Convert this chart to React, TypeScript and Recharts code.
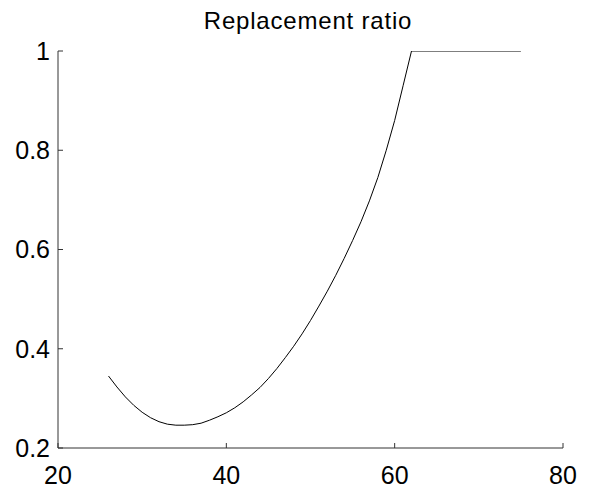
import { LineChart, Line, XAxis, YAxis } from "recharts";

const ages = [
  26, 27, 28, 29, 30, 31, 32, 33, 34, 35, 36, 37, 38, 39, 40, 41, 42, 43, 44,
  45, 46, 47, 48, 49, 50, 51, 52, 53, 54, 55, 56, 57, 58, 59, 60, 61, 62, 75,
];
const ratios = [
  0.345, 0.323, 0.303, 0.286, 0.272, 0.261, 0.253, 0.248, 0.246, 0.246,
  0.247, 0.25, 0.256, 0.263, 0.271, 0.281, 0.293, 0.307, 0.322, 0.34, 0.36,
  0.382, 0.405, 0.43, 0.457, 0.486, 0.516, 0.548, 0.582, 0.618, 0.656, 0.698,
  0.745, 0.8, 0.86, 0.93, 1.0, 1.0,
];
const xTicks = [20, 40, 60, 80];
const yTicks = [0.2, 0.4, 0.6, 0.8, 1];

const data = ages.map((age, i) => ({ age, ratio: ratios[i] }));

const font = "'Liberation Sans', Arial, sans-serif";
const axisColor = "#333333";

export default function App() {
  return (
    <div
      style={{
        position: "absolute",
        left: 0,
        top: 0,
        width: 594,
        height: 491,
        background: "#fff",
        fontFamily: font,
      }}
    >
      <div
        style={{
          position: "absolute",
          left: 58,
          width: 500,
          top: 7,
          textAlign: "center",
          fontSize: 24,
          letterSpacing: 0.8,
          color: "#000",
        }}
      >
        Replacement ratio
      </div>
      <LineChart
        width={594}
        height={491}
        data={data}
        margin={{ top: 51, right: 31, left: 8, bottom: 0 }}
      >
        <XAxis
          dataKey="age"
          type="number"
          domain={[20, 80]}
          ticks={xTicks}
          height={43}
          tickSize={-5}
          tickMargin={23}
          axisLine={{ stroke: axisColor }}
          tickLine={{ stroke: axisColor }}
          tick={{ fill: "#000", fontSize: 25, fontFamily: font }}
          interval={0}
        />
        <YAxis
          type="number"
          domain={[0.2, 1]}
          ticks={yTicks}
          width={50}
          tickSize={-5}
          tickMargin={13}
          axisLine={{ stroke: axisColor }}
          tickLine={{ stroke: axisColor }}
          tick={{ fill: "#000", fontSize: 25, fontFamily: font }}
          interval={0}
          allowDataOverflow
        />
        <Line
          dataKey="ratio"
          type="linear"
          stroke="#000"
          strokeWidth={1}
          dot={false}
          activeDot={false}
          isAnimationActive={false}
        />
      </LineChart>
    </div>
  );
}
